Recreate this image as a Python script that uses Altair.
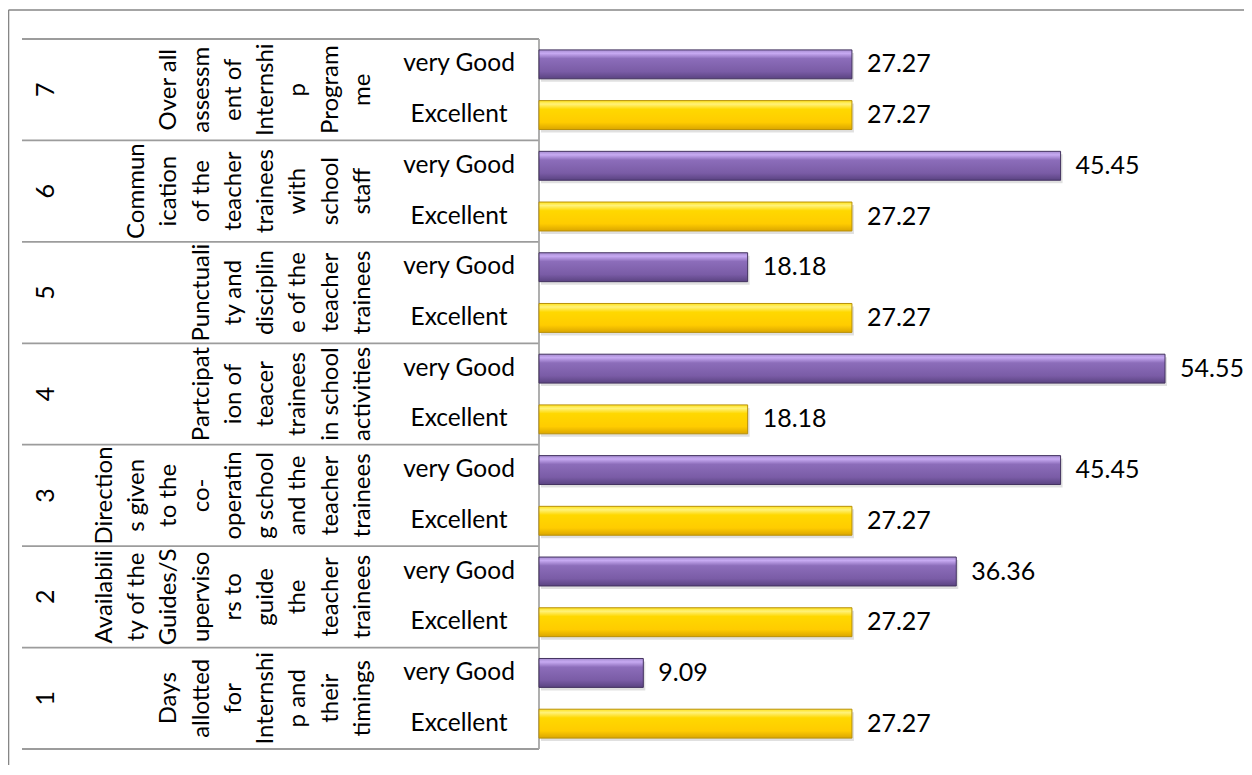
import altair as alt
import pandas as pd

# ---------------- data ----------------
groups = [1, 2, 3, 4, 5, 6, 7]
numbers = ["1", "2", "3", "4", "5", "6", "7"]
descriptions = [
    ["Days", "allotted", "for", "Internshi", "p and", "their", "timings"],
    ["Availabili", "ty of the", "Guides/S", "uperviso", "rs to", "guide", "the", "teacher", "trainees"],
    ["Direction", "s given", "to the", "co-", "operatin", "g school", "and the", "teacher", "trainees"],
    ["Partcipat", "ion of", "teacer", "trainees", "in school", "activities"],
    ["Punctuali", "ty and", "disciplin", "e of the", "teacher", "trainees"],
    ["Commun", "ication", "of the", "teacher", "trainees", "with", "school", "staff"],
    ["Over all", "assessm", "ent of", "Internshi", "p", "Program", "me"],
]
ratings = ["very Good", "Excellent"]
very_good = [9.09, 36.36, 45.45, 54.55, 18.18, 45.45, 27.27]
excellent = [27.27, 27.27, 27.27, 18.18, 27.27, 27.27, 27.27]

# ---------------- layout constants ----------------
W, H = 1216, 710
TABLE_W = 517           # table width (px units of the table scale)
NUM_X = 24              # centre of the number column
LAST_LINE_X = 341       # centre of the last wrapped description line
PITCH = 32.3            # line pitch of wrapped description text
RATING_X = 437          # centre of the rating column
PX_PER_UNIT = 11.476
FONT = "Lato"

# ---------------- tables ----------------
rows = []
for g, vg, ex in sorted(zip(groups, very_good, excellent), reverse=True):
    rows.append({"row": f"{g}|very Good", "group": g, "rating": "very Good", "value": vg})
    rows.append({"row": f"{g}|Excellent", "group": g, "rating": "Excellent", "value": ex})
bars = pd.DataFrame(rows)
row_order = list(bars["row"])

desc_rows = []
for g, lines in zip(groups, descriptions):
    n = len(lines)
    for i, t in enumerate(lines):
        desc_rows.append({"text": t, "tx": LAST_LINE_X - (n - 1 - i) * PITCH, "ty": 2 * g - 1})
desc = pd.DataFrame(desc_rows)

nums = pd.DataFrame({"text": numbers, "tx": NUM_X, "ty": [2 * g - 1 for g in groups]})
rate_rows = []
for g in groups:
    rate_rows.append({"text": ratings[0], "tx": RATING_X, "ty": 2 * g - 0.5})
    rate_rows.append({"text": ratings[1], "tx": RATING_X, "ty": 2 * g - 1.5})
rates = pd.DataFrame(rate_rows)
seps = pd.DataFrame({"ty": [2 * k for k in range(8)], "x0": 0, "x1": TABLE_W})

tx_scale = alt.Scale(domain=[0, W], nice=False, zero=False)
ty_scale = alt.Scale(domain=[0, 14], nice=False, zero=False)
val_scale = alt.Scale(domain=[-TABLE_W / PX_PER_UNIT, (W - TABLE_W) / PX_PER_UNIT], nice=False, zero=False)
row_scale = alt.Scale(domain=row_order, paddingInner=0.43, paddingOuter=0.215)

one = pd.DataFrame({"k": [0]})
frame_left = alt.Chart(one).mark_rule(color="#868686", strokeWidth=1.6).encode(
    x=alt.value(-13.5), y=alt.value(-29), y2=alt.value(H + 20))
frame_top = alt.Chart(one).mark_rule(color="#868686", strokeWidth=1.6).encode(
    x=alt.value(-13.5), x2=alt.value(W + 6), y=alt.value(-29))

sep_layer = alt.Chart(seps).mark_rule(color="#9c9c9c", strokeWidth=1.8).encode(
    x=alt.X("x0:Q", scale=tx_scale, axis=None),
    x2="x1:Q",
    y=alt.Y("ty:Q", scale=ty_scale, axis=None),
)
axis_line = alt.Chart(one).mark_rule(color="#a6a6a6", strokeWidth=1.8).encode(
    x=alt.X(datum=TABLE_W, scale=tx_scale, axis=None),
    y=alt.Y(datum=0, scale=ty_scale, axis=None),
    y2=alt.Y2(datum=14),
)

text_kw = dict(font=FONT, color="#000000", align="center", baseline="middle")
num_layer = alt.Chart(nums).mark_text(fontSize=25, angle=270, **text_kw).encode(
    x=alt.X("tx:Q", scale=tx_scale, axis=None),
    y=alt.Y("ty:Q", scale=ty_scale, axis=None),
    text="text:N",
)
desc_layer = alt.Chart(desc).mark_text(fontSize=24, angle=270, **text_kw).encode(
    x=alt.X("tx:Q", scale=tx_scale, axis=None),
    y=alt.Y("ty:Q", scale=ty_scale, axis=None),
    text="text:N",
)
rate_layer = alt.Chart(rates).mark_text(fontSize=24.5, **text_kw).encode(
    x=alt.X("tx:Q", scale=tx_scale, axis=None),
    y=alt.Y("ty:Q", scale=ty_scale, axis=None),
    text="text:N",
)

purple = alt.Gradient(
    gradient="linear", x1=0, x2=0, y1=0, y2=1,
    stops=[
        alt.GradientStop(offset=0.0, color="#a58bd0"),
        alt.GradientStop(offset=0.12, color="#c7aaf2"),
        alt.GradientStop(offset=0.3, color="#8c6dba"),
        alt.GradientStop(offset=0.75, color="#7a5ca6"),
        alt.GradientStop(offset=1.0, color="#5a4381"),
    ],
)
yellow = alt.Gradient(
    gradient="linear", x1=0, x2=0, y1=0, y2=1,
    stops=[
        alt.GradientStop(offset=0.0, color="#ffe21a"),
        alt.GradientStop(offset=0.12, color="#fff27a"),
        alt.GradientStop(offset=0.3, color="#ffd800"),
        alt.GradientStop(offset=0.75, color="#ffcc00"),
        alt.GradientStop(offset=1.0, color="#dba600"),
    ],
)

bar_enc = dict(
    x=alt.X("value:Q", scale=val_scale, axis=None),
    y=alt.Y("row:N", scale=row_scale, axis=None, sort=row_order),
)
shadow = alt.Chart(bars).mark_bar(fill="#000000", fillOpacity=0.12, strokeOpacity=0,
                                  xOffset=2, yOffset=3).encode(**bar_enc)
bars_vg = alt.Chart(bars).transform_filter(alt.datum.rating == "very Good").mark_bar(
    fill=purple, stroke="#43325f", strokeWidth=1).encode(**bar_enc)
bars_ex = alt.Chart(bars).transform_filter(alt.datum.rating == "Excellent").mark_bar(
    fill=yellow, stroke="#b8900a", strokeWidth=1).encode(**bar_enc)
labels = alt.Chart(bars).mark_text(font=FONT, fontSize=25, color="#000000", align="left",
                                   baseline="middle", dx=15).encode(
    **bar_enc, text=alt.Text("value:Q", format=".2f"))

chart = alt.layer(
    frame_left, frame_top, sep_layer, axis_line, num_layer, desc_layer, rate_layer,
    shadow, bars_vg, bars_ex, labels,
).resolve_scale(x="independent", y="independent").properties(
    width=W, height=H,
    autosize=alt.AutoSizeParams(type="none"),
    padding={"left": 14, "top": 31, "right": 6, "bottom": 16},
).configure(background="white").configure_view(stroke=None)

chart.save("out.html", embed_options={"renderer": "svg", "actions": False})
